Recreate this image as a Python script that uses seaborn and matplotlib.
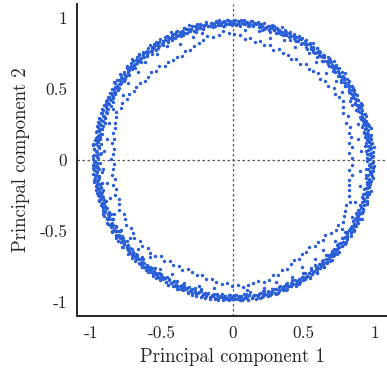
import numpy as np
import pandas as pd
import matplotlib
matplotlib.use('Agg')
import matplotlib.pyplot as plt
import seaborn as sns

# Pontos, em coordenadas polares (angulo em graus, raio)
# Banda externa densa (primeira leva)
outer_angle = [
    0.3, 1.0, 1.6, 2.4, 3.1, 3.7, 4.5, 5.2, 5.8, 6.6, 7.3, 7.9, 8.7, 9.4,
    10.1, 10.8, 11.5, 12.1, 12.9, 13.5, 14.2, 15.0, 15.6, 16.3, 17.1, 17.7, 18.4, 19.2,
    20.5, 21.2, 21.9, 22.6, 23.2, 24.0, 24.7, 25.4, 26.0, 26.8, 27.5, 28.2, 28.9, 29.7,
    30.2, 30.7, 31.4, 32.2, 32.8, 33.6, 34.3, 34.9, 35.7, 36.4, 37.0, 37.8, 38.5, 39.1,
    40.3, 41.0, 41.6, 42.4, 43.1, 43.7, 44.5, 45.2, 45.8, 46.6, 47.3, 47.9, 48.7, 49.4,
    50.1, 50.8, 51.5, 52.1, 52.9, 53.5, 54.2, 55.0, 55.6, 56.3, 57.1, 57.7, 58.4, 59.2,
    60.5, 61.2, 61.9, 62.6, 63.2, 64.0, 64.7, 65.4, 66.0, 66.8, 67.5, 68.2, 68.9, 69.7,
    70.2, 70.7, 71.4, 72.2, 72.8, 73.6, 74.3, 74.9, 75.7, 76.4, 77.0, 77.8, 78.5, 79.1,
    80.3, 81.0, 81.6, 82.4, 83.1, 83.7, 84.5, 85.2, 85.8, 86.6, 87.3, 87.9, 88.7, 89.4,
    90.1, 90.8, 91.5, 92.1, 92.9, 93.5, 94.2, 95.0, 95.6, 96.3, 97.1, 97.7, 98.4, 99.2,
    100.5, 101.2, 101.9, 102.6, 103.2, 104.0, 104.7, 105.4, 106.0, 106.8, 107.5, 108.2, 108.9, 109.7,
    110.2, 110.7, 111.4, 112.2, 112.8, 113.6, 114.3, 114.9, 115.7, 116.4, 117.0, 117.8, 118.5, 119.1,
    120.3, 121.0, 121.6, 122.4, 123.1, 123.7, 124.5, 125.2, 125.8, 126.6, 127.3, 127.9, 128.7, 129.4,
    130.1, 130.8, 131.5, 132.1, 132.9, 133.5, 134.2, 135.0, 135.6, 136.3, 137.1, 137.7, 138.4, 139.2,
    140.5, 141.2, 141.9, 142.6, 143.2, 144.0, 144.7, 145.4, 146.0, 146.8, 147.5, 148.2, 148.9, 149.7,
    150.2, 150.7, 151.4, 152.2, 152.8, 153.6, 154.3, 154.9, 155.7, 156.4, 157.0, 157.8, 158.5, 159.1,
    160.3, 161.0, 161.6, 162.4, 163.1, 163.7, 164.5, 165.2, 165.8, 166.6, 167.3, 167.9, 168.7, 169.4,
    170.1, 170.8, 171.5, 172.1, 172.9, 173.5, 174.2, 175.0, 175.6, 176.3, 177.1, 177.7, 178.4, 179.2,
    180.5, 181.2, 181.9, 182.6, 183.2, 184.0, 184.7, 185.4, 186.0, 186.8, 187.5, 188.2, 188.9, 189.7,
    190.2, 190.7, 191.4, 192.2, 192.8, 193.6, 194.3, 194.9, 195.7, 196.4, 197.0, 197.8, 198.5, 199.1,
    200.3, 201.0, 201.6, 202.4, 203.1, 203.7, 204.5, 205.2, 205.8, 206.6, 207.3, 207.9, 208.7, 209.4,
    210.1, 210.8, 211.5, 212.1, 212.9, 213.5, 214.2, 215.0, 215.6, 216.3, 217.1, 217.7, 218.4, 219.2,
    220.5, 221.2, 221.9, 222.6, 223.2, 224.0, 224.7, 225.4, 226.0, 226.8, 227.5, 228.2, 228.9, 229.7,
    230.2, 230.7, 231.4, 232.2, 232.8, 233.6, 234.3, 234.9, 235.7, 236.4, 237.0, 237.8, 238.5, 239.1,
    240.3, 241.0, 241.6, 242.4, 243.1, 243.7, 244.5, 245.2, 245.8, 246.6, 247.3, 247.9, 248.7, 249.4,
    250.1, 250.8, 251.5, 252.1, 252.9, 253.5, 254.2, 255.0, 255.6, 256.3, 257.1, 257.7, 258.4, 259.2,
    260.5, 261.2, 261.9, 262.6, 263.2, 264.0, 264.7, 265.4, 266.0, 266.8, 267.5, 268.2, 268.9, 269.7,
    270.2, 270.7, 271.4, 272.2, 272.8, 273.6, 274.3, 274.9, 275.7, 276.4, 277.0, 277.8, 278.5, 279.1,
    280.3, 281.0, 281.6, 282.4, 283.1, 283.7, 284.5, 285.2, 285.8, 286.6, 287.3, 287.9, 288.7, 289.4,
    290.1, 290.8, 291.5, 292.1, 292.9, 293.5, 294.2, 295.0, 295.6, 296.3, 297.1, 297.7, 298.4, 299.2,
    300.5, 301.2, 301.9, 302.6, 303.2, 304.0, 304.7, 305.4, 306.0, 306.8, 307.5, 308.2, 308.9, 309.7,
    310.2, 310.7, 311.4, 312.2, 312.8, 313.6, 314.3, 314.9, 315.7, 316.4, 317.0, 317.8, 318.5, 319.1,
    320.3, 321.0, 321.6, 322.4, 323.1, 323.7, 324.5, 325.2, 325.8, 326.6, 327.3, 327.9, 328.7, 329.4,
    330.1, 330.8, 331.5, 332.1, 332.9, 333.5, 334.2, 335.0, 335.6, 336.3, 337.1, 337.7, 338.4, 339.2,
    340.5, 341.2, 341.9, 342.6, 343.2, 344.0, 344.7, 345.4, 346.0, 346.8, 347.5, 348.2, 348.9, 349.7,
    350.2, 350.7, 351.4, 352.2, 352.8, 353.6, 354.3, 354.9, 355.7, 356.4, 357.0, 357.8, 358.5, 359.1,
]
outer_radius = [
    .97, .95, .99, .96, .98, .94, .97, 1.00, .96, .98, .95, .97, .99, .96,
    .98, .96, .97, .95, 1.00, .97, .94, .99, .96, .98, .97, .95, .96, .99,
    .96, .98, .94, .97, .99, .96, .95, .98, .97, .93, .99, .96, .98, .95,
    .95, .99, .96, .98, .97, .95, .99, .96, .94, .98, .97, 1.00, .95, .97,
    .97, .99, .95, .98, .96, .97, 1.00, .95, .98, .96, .99, .94, .97, .98,
    .96, .94, .98, .97, .99, .95, .97, .96, 1.00, .98, .95, .97, .99, .96,
    .98, .96, .99, .95, .97, .98, .94, .97, .99, .96, .98, .95, .97, 1.00,
    .95, .97, .98, .96, .99, .94, .97, .98, .96, .95, .99, .97, .96, .98,
    .97, .98, .96, .99, .95, .97, .98, .96, .97, .99, .96, .98, .95, .97,
    .98, .96, .97, .99, .96, .98, .95, .97, .99, .96, .98, .97, .95, .98,
    .96, .99, .97, .95, .98, .97, .99, .96, .98, .95, .97, 1.00, .96, .98,
    .99, .96, .98, .97, .95, .99, .96, .98, 1.00, .97, .95, .98, .96, .99,
    .97, 1.00, .96, .98, .99, .95, .98, .97, 1.00, .96, .99, .97, .98, .95,
    .98, .96, 1.00, .97, .99, .96, .98, 1.01, .97, .99, .96, .98, 1.00, .97,
    .96, .99, .97, 1.00, .95, .98, .97, .99, .96, 1.00, .97, .98, .95, .99,
    .97, .95, .99, .96, .98, .97, .94, .99, .96, .98, .97, .95, .99, .96,
    .98, .96, .95, .99, .97, .94, .98, .96, .99, .95, .97, .98, .94, .96,
    .95, .98, .96, .97, .94, .99, .96, .95, .98, .97, .93, .96, .99, .95,
    .97, .94, .98, .96, .99, .95, .97, .93, .98, .96, .95, .99, .97, .94,
    .96, .98, .95, .97, .94, .99, .96, .98, .95, .97, .99, .94, .96, .98,
    .98, .95, .97, .99, .96, .94, .98, .97, .95, .99, .96, .98, .97, .95,
    .97, .99, .96, .94, .98, .97, .95, .99, .96, .98, .94, .97, .99, .96,
    .95, .97, .99, .96, .98, .95, .97, .96, .99, .94, .98, .96, .97, .99,
    .98, .96, .97, .95, .99, .97, .94, .98, .96, .97, .99, .95, .98, .96,
    .96, .98, .95, .99, .97, .96, .98, .94, .97, .99, .96, .98, .95, .97,
    .97, .95, .99, .96, .98, .94, .97, .99, .96, .95, .98, .97, .99, .96,
    .98, .96, .97, .99, .95, .98, .96, .97, .99, .96, .98, .95, .97, .98,
    .96, .98, .95, .97, .99, .96, .98, .97, .95, .99, .96, .98, .97, .96,
    .97, .99, .96, .98, .95, .97, .99, .96, .98, .97, .95, .99, .96, .98,
    .95, .97, .98, .96, .99, .95, .97, .98, .96, .94, .98, .97, .99, .96,
    .98, .96, .94, .97, .99, .96, .98, .95, .97, .99, .96, .94, .98, .97,
    .96, .99, .97, .95, .98, .96, .94, .99, .97, .96, .98, .95, .97, .99,
    .97, .95, .98, .96, .99, .97, .95, .98, .96, .97, .99, .95, .98, .96,
    .99, .96, .98, .97, .95, .99, .96, .98, 1.00, .96, .97, .99, .95, .98,
    .96, .98, 1.00, .97, .99, .96, .98, .95, .99, .97, 1.00, .96, .98, .97,
    .98, .96, .99, .97, 1.00, .95, .98, .97, .99, .96, .98, 1.00, .97, .99,
]

# Banda externa (segunda leva)
outer2_angle = [
    0.6, 1.3, 2.0, 2.7, 3.4, 4.1, 4.9, 5.5, 6.2, 6.9, 7.6, 8.3, 9.0, 9.8,
    10.4, 11.1, 11.8, 12.5, 13.3, 13.9, 14.6, 15.3, 16.1, 16.7, 17.4, 18.1, 18.8, 19.5,
    20.6, 21.3, 22.0, 22.7, 23.4, 24.1, 24.9, 25.5, 26.2, 26.9, 27.6, 28.3, 29.0, 29.8,
    30.4, 31.1, 31.8, 32.5, 33.3, 33.9, 34.6, 35.3, 36.1, 36.7, 37.4, 38.1, 38.8, 39.5,
    40.6, 41.3, 42.0, 42.7, 43.4, 44.1, 44.9, 45.5, 46.2, 46.9, 47.6, 48.3, 49.0, 49.8,
    50.4, 51.1, 51.8, 52.5, 53.3, 53.9, 54.6, 55.3, 56.1, 56.7, 57.4, 58.1, 58.8, 59.5,
    60.6, 61.3, 62.0, 62.7, 63.4, 64.1, 64.9, 65.5, 66.2, 66.9, 67.6, 68.3, 69.0, 69.8,
    70.4, 71.1, 71.8, 72.5, 73.3, 73.9, 74.6, 75.3, 76.1, 76.7, 77.4, 78.1, 78.8, 79.5,
    80.6, 81.3, 82.0, 82.7, 83.4, 84.1, 84.9, 85.5, 86.2, 86.9, 87.6, 88.3, 89.0, 89.8,
    90.4, 91.1, 91.8, 92.5, 93.3, 93.9, 94.6, 95.3, 96.1, 96.7, 97.4, 98.1, 98.8, 99.5,
    100.6, 101.3, 102.0, 102.7, 103.4, 104.1, 104.9, 105.5, 106.2, 106.9, 107.6, 108.3, 109.0, 109.8,
    110.4, 111.1, 111.8, 112.5, 113.3, 113.9, 114.6, 115.3, 116.1, 116.7, 117.4, 118.1, 118.8, 119.5,
    120.6, 121.3, 122.0, 122.7, 123.4, 124.1, 124.9, 125.5, 126.2, 126.9, 127.6, 128.3, 129.0, 129.8,
    130.4, 131.1, 131.8, 132.5, 133.3, 133.9, 134.6, 135.3, 136.1, 136.7, 137.4, 138.1, 138.8, 139.5,
    140.6, 141.3, 142.0, 142.7, 143.4, 144.1, 144.9, 145.5, 146.2, 146.9, 147.6, 148.3, 149.0, 149.8,
    150.4, 151.1, 151.8, 152.5, 153.3, 153.9, 154.6, 155.3, 156.1, 156.7, 157.4, 158.1, 158.8, 159.5,
    160.6, 161.3, 162.0, 162.7, 163.4, 164.1, 164.9, 165.5, 166.2, 166.9, 167.6, 168.3, 169.0, 169.8,
    170.4, 171.1, 171.8, 172.5, 173.3, 173.9, 174.6, 175.3, 176.1, 176.7, 177.4, 178.1, 178.8, 179.5,
    180.6, 181.3, 182.0, 182.7, 183.4, 184.1, 184.9, 185.5, 186.2, 186.9, 187.6, 188.3, 189.0, 189.8,
    190.4, 191.1, 191.8, 192.5, 193.3, 193.9, 194.6, 195.3, 196.1, 196.7, 197.4, 198.1, 198.8, 199.5,
    200.6, 201.3, 202.0, 202.7, 203.4, 204.1, 204.9, 205.5, 206.2, 206.9, 207.6, 208.3, 209.0, 209.8,
    210.4, 211.1, 211.8, 212.5, 213.3, 213.9, 214.6, 215.3, 216.1, 216.7, 217.4, 218.1, 218.8, 219.5,
    220.6, 221.3, 222.0, 222.7, 223.4, 224.1, 224.9, 225.5, 226.2, 226.9, 227.6, 228.3, 229.0, 229.8,
    230.4, 231.1, 231.8, 232.5, 233.3, 233.9, 234.6, 235.3, 236.1, 236.7, 237.4, 238.1, 238.8, 239.5,
    240.6, 241.3, 242.0, 242.7, 243.4, 244.1, 244.9, 245.5, 246.2, 246.9, 247.6, 248.3, 249.0, 249.8,
    250.4, 251.1, 251.8, 252.5, 253.3, 253.9, 254.6, 255.3, 256.1, 256.7, 257.4, 258.1, 258.8, 259.5,
    260.6, 261.3, 262.0, 262.7, 263.4, 264.1, 264.9, 265.5, 266.2, 266.9, 267.6, 268.3, 269.0, 269.8,
    270.4, 271.1, 271.8, 272.5, 273.3, 273.9, 274.6, 275.3, 276.1, 276.7, 277.4, 278.1, 278.8, 279.5,
    280.6, 281.3, 282.0, 282.7, 283.4, 284.1, 284.9, 285.5, 286.2, 286.9, 287.6, 288.3, 289.0, 289.8,
    290.4, 291.1, 291.8, 292.5, 293.3, 293.9, 294.6, 295.3, 296.1, 296.7, 297.4, 298.1, 298.8, 299.5,
    300.6, 301.3, 302.0, 302.7, 303.4, 304.1, 304.9, 305.5, 306.2, 306.9, 307.6, 308.3, 309.0, 309.8,
    310.4, 311.1, 311.8, 312.5, 313.3, 313.9, 314.6, 315.3, 316.1, 316.7, 317.4, 318.1, 318.8, 319.5,
    320.6, 321.3, 322.0, 322.7, 323.4, 324.1, 324.9, 325.5, 326.2, 326.9, 327.6, 328.3, 329.0, 329.8,
    330.4, 331.1, 331.8, 332.5, 333.3, 333.9, 334.6, 335.3, 336.1, 336.7, 337.4, 338.1, 338.8, 339.5,
    340.6, 341.3, 342.0, 342.7, 343.4, 344.1, 344.9, 345.5, 346.2, 346.9, 347.6, 348.3, 349.0, 349.8,
    350.4, 351.1, 351.8, 352.5, 353.3, 353.9, 354.6, 355.3, 356.1, 356.7, 357.4, 358.1, 358.8, 359.5,
]
outer2_radius = [
    .96, .98, .97, .95, .99, .96, .98, .97, .94, .99, .97, .96, .98, .95,
    .99, .97, .95, .98, .96, .99, .97, .95, .98, .96, .97, .99, .95, .97,
    .97, .95, .98, .96, .97, .99, .95, .98, .97, .96, .94, .98, .96, .99,
    .98, .96, .99, .97, .95, .98, .96, .99, .97, .95, .98, .96, .99, .97,
    .95, .98, .96, .99, .97, .95, .98, .96, .97, .99, .95, .97, .98, .96,
    .96, .98, .97, .95, .99, .96, .98, .97, .94, .99, .97, .96, .98, .95,
    .99, .97, .95, .98, .96, .99, .97, .95, .98, .96, .97, .99, .95, .97,
    .97, .95, .98, .96, .97, .99, .95, .98, .97, .96, .94, .98, .96, .99,
    .98, .96, .99, .97, .95, .98, .96, .99, .97, .95, .98, .96, .99, .97,
    .95, .98, .96, .99, .97, .95, .98, .96, .97, .99, .95, .97, .98, .96,
    .96, .98, .97, .95, .99, .96, .98, .97, .94, .99, .97, .96, .98, .95,
    .99, .97, .95, .98, .96, .99, .97, .95, .98, .96, .97, .99, .95, .97,
    .97, .95, .98, .96, .97, .99, .95, .98, .97, .96, .94, .98, .96, .99,
    .98, .96, .99, .97, .95, .98, .96, .99, .97, .95, .98, .96, .99, .97,
    .95, .98, .96, .99, .97, .95, .98, .96, .97, .99, .95, .97, .98, .96,
    .96, .98, .97, .95, .99, .96, .98, .97, .94, .99, .97, .96, .98, .95,
    .99, .97, .95, .98, .96, .99, .97, .95, .98, .96, .97, .99, .95, .97,
    .97, .95, .98, .96, .97, .99, .95, .98, .97, .96, .94, .98, .96, .99,
    .98, .96, .99, .97, .95, .98, .96, .99, .97, .95, .98, .96, .99, .97,
    .95, .98, .96, .99, .97, .95, .98, .96, .97, .99, .95, .97, .98, .96,
    .96, .98, .97, .95, .99, .96, .98, .97, .94, .99, .97, .96, .98, .95,
    .99, .97, .95, .98, .96, .99, .97, .95, .98, .96, .97, .99, .95, .97,
    .97, .95, .98, .96, .97, .99, .95, .98, .97, .96, .94, .98, .96, .99,
    .98, .96, .99, .97, .95, .98, .96, .99, .97, .95, .98, .96, .99, .97,
    .95, .98, .96, .99, .97, .95, .98, .96, .97, .99, .95, .97, .98, .96,
    .96, .98, .97, .95, .99, .96, .98, .97, .94, .99, .97, .96, .98, .95,
    .99, .97, .95, .98, .96, .99, .97, .95, .98, .96, .97, .99, .95, .97,
    .97, .95, .98, .96, .97, .99, .95, .98, .97, .96, .94, .98, .96, .99,
    .98, .96, .99, .97, .95, .98, .96, .99, .97, .95, .98, .96, .99, .97,
    .95, .98, .96, .99, .97, .95, .98, .96, .97, .99, .95, .97, .98, .96,
    .96, .98, .97, .95, .99, .96, .98, .97, .94, .99, .97, .96, .98, .95,
    .99, .97, .95, .98, .96, .99, .97, .95, .98, .96, .97, .99, .95, .97,
    .97, .95, .98, .96, .97, .99, .95, .98, .97, .96, .94, .98, .96, .99,
    .98, .96, .99, .97, .95, .98, .96, .99, .97, .95, .98, .96, .99, .97,
    .95, .98, .96, .99, .97, .95, .98, .96, .97, .99, .95, .97, .98, .96,
    .96, .98, .97, .95, .99, .96, .98, .97, .94, .99, .97, .96, .98, .95,
]

# Trilha interna
inner_angle = [
    1.2, 3.5, 6.1, 8.4, 11.0, 13.3, 15.8, 18.2, 20.9, 23.1,
    25.6, 28.3, 30.7, 33.0, 35.4, 38.1, 40.5, 42.8, 45.3, 47.9,
    50.2, 52.6, 55.1, 57.7, 60.0, 62.4, 64.9, 67.3, 69.8, 72.2,
    74.6, 77.1, 79.5, 82.0, 84.4, 86.9, 89.3, 91.8, 94.2, 96.5,
    99.1, 101.6, 104.0, 106.3, 108.9, 111.2, 113.7, 116.1, 118.6, 121.0,
    123.5, 125.9, 128.2, 130.8, 133.1, 135.6, 138.0, 140.5, 142.9, 145.2,
    147.8, 150.1, 152.6, 155.0, 157.5, 159.9, 162.3, 164.8, 167.2, 169.7,
    172.1, 174.5, 177.0, 179.4, 181.9, 184.3, 186.8, 189.1, 191.6, 194.0,
    196.5, 198.9, 201.3, 203.8, 206.2, 208.7, 211.1, 213.6, 216.0, 218.4,
    220.9, 223.3, 225.8, 228.2, 230.7, 233.1, 235.5, 238.0, 240.4, 242.9,
    245.3, 247.8, 250.2, 252.6, 255.1, 257.5, 260.0, 262.4, 264.9, 267.3,
    269.8, 272.2, 274.6, 277.1, 279.5, 282.0, 284.4, 286.9, 289.3, 291.7,
    294.2, 296.6, 299.1, 301.5, 304.0, 306.4, 308.8, 311.3, 313.7, 316.2,
    318.6, 321.1, 323.5, 325.9, 328.4, 330.8, 333.3, 335.7, 338.2, 340.6,
    343.0, 345.5, 347.9, 350.4, 352.8, 355.3, 357.7,
]
inner_radius = [
    .84, .82, .85, .83, .85, .84, .86, .84, .87, .85,
    .86, .88, .87, .86, .88, .85, .86, .84, .86, .85,
    .84, .85, .83, .84, .82, .84, .83, .85, .83, .85,
    .84, .86, .85, .87, .86, .88, .89, .90, .91, .89,
    .88, .89, .87, .86, .85, .83, .84, .82, .83, .82,
    .83, .82, .84, .83, .85, .84, .83, .85, .86, .85,
    .87, .86, .88, .87, .89, .88, .87, .86, .87, .85,
    .86, .84, .85, .86, .84, .85, .86, .84, .86, .85,
    .87, .85, .86, .88, .86, .87, .88, .86, .87, .89,
    .87, .88, .86, .88, .87, .85, .86, .84, .85, .84,
    .85, .83, .84, .85, .84, .86, .85, .87, .88, .87,
    .89, .88, .90, .89, .88, .87, .89, .88, .86, .87,
    .85, .86, .84, .83, .84, .82, .83, .82, .84, .83,
    .85, .84, .86, .88, .87, .89, .88, .87, .86, .88,
    .86, .85, .84, .83, .85, .82, .84,
]

# Trilha intermediaria (esparsa)
middle_angle = [
    4.0, 9.5, 16.2, 24.7, 31.9, 37.5, 43.2, 49.8, 54.6, 61.3,
    66.7, 72.9, 78.4, 84.8, 103.5, 108.1, 114.6, 119.9, 125.3, 131.7,
    137.2, 143.6, 149.1, 156.8, 163.2, 170.4, 176.1, 183.7, 190.5, 197.2,
    204.6, 211.9, 217.4, 223.1, 229.6, 236.2, 241.7, 248.3, 254.8, 261.5,
    276.3, 283.9, 289.4, 296.8, 303.1, 309.7, 315.2, 321.6, 327.9, 334.5,
    341.2, 348.6, 355.1,
]
middle_radius = [
    .91, .90, .92, .93, .91, .92, .90, .91, .93, .91,
    .92, .90, .93, .92, .92, .91, .90, .93, .92, .93,
    .91, .92, .90, .92, .91, .90, .91, .92, .90, .91,
    .92, .93, .91, .92, .90, .92, .91, .93, .92, .91,
    .92, .93, .91, .92, .90, .91, .90, .92, .91, .93,
    .91, .92, .90,
]

tick_values = [-1, -0.5, 0, 0.5, 1]
tick_labels = ['-1', '-0.5', '0', '0.5', '1']

angulo = np.deg2rad(np.array(outer_angle + outer2_angle + inner_angle + middle_angle))
raio = np.array(outer_radius + outer2_radius + inner_radius + middle_radius)
df = pd.DataFrame({'pc1': raio * np.cos(angulo), 'pc2': raio * np.sin(angulo)})

sns.set_theme(style='white')
plt.rcParams['font.family'] = ['cmr10', 'DejaVu Serif']
plt.rcParams['axes.unicode_minus'] = False
plt.rcParams['mathtext.fontset'] = 'cm'

fig = plt.figure(figsize=(3.87, 3.71), dpi=100)
ax = fig.add_axes([0.199, 0.148, 0.805, 0.841])

ax.axhline(0, color='#555555', linestyle=(0, (2, 2)), linewidth=0.9, zorder=1)
ax.axvline(0, color='#555555', linestyle=(0, (2, 2)), linewidth=0.9, zorder=1)

sns.scatterplot(data=df, x='pc1', y='pc2', s=6, color='#2a5ed8',
                linewidth=0, ax=ax, zorder=2)

ax.set_xlim(-1.1, 1.1)
ax.set_ylim(-1.1, 1.1)
ax.set_xticks(tick_values)
ax.set_xticklabels(tick_labels)
ax.set_yticks(tick_values)
ax.set_yticklabels(tick_labels)
ax.tick_params(direction='in', length=3.5, width=1, color='#262626',
               labelsize=12.5, labelcolor='#262626', pad=7)
ax.set_xlabel('Principal component 1', fontsize=13.5, color='#262626', labelpad=5)
ax.set_ylabel('Principal component 2', fontsize=13.5, color='#262626', labelpad=7)

for lado in ['top', 'right']:
    ax.spines[lado].set_visible(False)
for lado in ['left', 'bottom']:
    ax.spines[lado].set_color('#262626')
    ax.spines[lado].set_linewidth(1.4)

fig.savefig('out.png', dpi=100)
